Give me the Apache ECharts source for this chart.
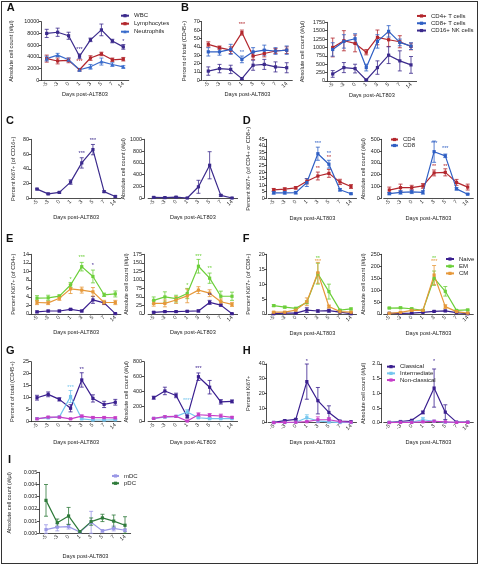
<!DOCTYPE html>
<html><head><meta charset="utf-8">
<script src="https://cdn.jsdelivr.net/npm/echarts@6/dist/echarts.min.js"></script>
<style>
html,body{margin:0;padding:0;background:#fff}
#c{position:absolute;left:0;top:0;width:480px;height:566px}
#frame{position:absolute;left:1px;top:1px;width:477px;height:563px;border:1px solid #333;box-sizing:border-box;pointer-events:none}
</style></head>
<body><div id="c"></div><div id="frame"></div>
<script>
// ---------- categories ----------
const days = ["-5","-3","0","1","3","5","7","14"];

// ---------- colours ----------
const PURPLE = "#3b2a8c", RED = "#b3272d", BLUE = "#3a6ccc", BLUE2 = "#2f5fc4";
const NAIVE = "#3a1f8f", EMC = "#6ccf3a", CMC = "#e6983a";
const CLASS = "#3a1f8f", INTER = "#74c6ee", NONC = "#c63ec8";
const MDC = "#9a97e6", PDC = "#2e7a3a";

// ---------- A ----------
const aWBC = [8000, 8200, 7600, 4100, 6900, 8600, 6700, 5700];
const aWBCErr = [700, 700, 600, 400, 300, 1000, 300, 400];
const aLym = [3700, 3300, 3400, 1800, 3800, 4500, 3500, 3600];
const aLymErr = [600, 500, 400, 200, 400, 300, 300, 300];
const aNeu = [3700, 4300, 3500, 1800, 2300, 3200, 2700, 2300];
const aNeuErr = [400, 300, 300, 200, 400, 600, 300, 200];

// ---------- B ----------
const bPctCD4 = [43, 39, 36, 57, 29, 32, 35, 36];
const bPctCD4Err = [3, 2, 4, 3, 4, 4, 3, 4];
const bPctCD8 = [34, 34, 37, 25, 34, 36, 35, 36];
const bPctCD8Err = [5, 4, 6, 4, 5, 6, 4, 5];
const bPctNK = [11, 14, 13, 2, 18, 19, 16, 15];
const bPctNKErr = [5, 5, 5, 1, 6, 6, 6, 6];
const bAbsCD4 = [1000, 1200, 1120, 860, 1300, 1230, 1170, 1030];
const bAbsCD4Err = [280, 300, 250, 80, 220, 200, 180, 100];
const bAbsCD8 = [940, 1180, 1260, 400, 1180, 1480, 1150, 1040];
const bAbsCD8Err = [200, 200, 150, 100, 200, 170, 100, 100];
const bAbsNK = [210, 400, 370, 30, 400, 770, 600, 480];
const bAbsNKErr = [100, 150, 130, 20, 200, 250, 300, 250];

// ---------- C ----------
const cPct = [12.5, 6, 8, 22, 48, 66, 9, 2.5];
const cPctErr = [1, 1, 1, 3, 7, 7, 1, 1];
const cAbs = [15, 12, 20, 5, 195, 560, 50, 5];
const cAbsErr = [10, 10, 10, 3, 110, 230, 15, 3];

// ---------- D ----------
const dPctCD4 = [6.5, 7, 8, 13, 17, 19, 12.5, 9];
const dPctCD4Err = [1, 1, 1, 2, 3, 3, 2, 1.5];
const dPctCD8 = [4.2, 4.2, 4.3, 12, 34, 26, 6.5, 3.5];
const dPctCD8Err = [1, 1, 1, 3, 5, 3, 1, 0.5];
const dAbsCD4 = [70, 90, 90, 105, 215, 220, 135, 95];
const dAbsCD4Err = [25, 30, 20, 20, 25, 30, 25, 25];
const dAbsCD8 = [40, 50, 55, 50, 395, 360, 80, 35];
const dAbsCD8Err = [10, 15, 15, 15, 90, 15, 10, 5];

// ---------- E (CD4 subsets) ----------
const ePctNaive = [0.5, 0.7, 0.7, 1.1, 0.7, 3.3, 2.6, 0.1];
const ePctNaiveErr = [0.2, 0.2, 0.2, 0.2, 0.2, 0.8, 0.3, 0.1];
const ePctEM = [3.7, 3.8, 4.2, 6.8, 11.1, 8.8, 4.5, 4.7];
const ePctEMErr = [0.6, 0.6, 0.3, 0.6, 1, 1.5, 0.4, 0.7];
const ePctCM = [2.7, 2.6, 3.7, 5.9, 5.6, 5.2, 2.7, 2.7];
const ePctCMErr = [0.5, 0.4, 0.5, 1.1, 0.7, 1, 0.5, 0.5];
const eAbsNaive = [5, 7, 7, 8, 9, 34, 26, 1];
const eAbsNaiveErr = [2, 2, 2, 2, 3, 6, 3, 1];
const eAbsEM = [40, 50, 45, 60, 140, 105, 52, 52];
const eAbsEMErr = [10, 15, 10, 15, 20, 15, 15, 12];
const eAbsCM = [31, 31, 41, 53, 70, 61, 36, 28];
const eAbsCMErr = [8, 10, 10, 20, 10, 10, 8, 6];

// ---------- F (CD8 subsets) ----------
const fPctNaive = [0.1, 0.3, 0.3, 1.3, 1, 1.1, 0.6, 0.1];
const fPctNaiveErr = [0.1, 0.1, 0.1, 0.8, 0.4, 0.5, 0.2, 0.1];
const fPctEM = [2.8, 2.3, 1.9, 3.9, 13.5, 7.5, 1.3, 1.7];
const fPctEMErr = [0.3, 0.3, 0.3, 0.5, 3.5, 2.5, 0.2, 0.3];
const fPctCM = [0.6, 0.6, 1.3, 4.1, 13.8, 2.5, 0.8, 0.6];
const fPctCMErr = [0.2, 0.2, 0.3, 1.3, 3.5, 0.5, 0.2, 0.2];
const fAbsNaive = [3, 3, 4, 7, 11, 13, 6, 1];
const fAbsNaiveErr = [1, 1, 1, 2, 3, 3, 2, 1];
const fAbsEM = [25, 26, 22, 15, 150, 95, 15, 17];
const fAbsEMErr = [3, 3, 3, 3, 30, 20, 3, 3];
const fAbsCM = [3, 7, 15, 15, 163, 31, 10, 4];
const fAbsCMErr = [1, 2, 3, 3, 40, 8, 2, 1];

// ---------- G (monocytes) ----------
const gPctClass = [10, 11.4, 9.3, 5.6, 17.4, 9.7, 7.2, 8.1];
const gPctClassErr = [1, 1, 0.7, 1.5, 3, 1.5, 1.3, 1.2];
const gPctInter = [1.3, 1.6, 2, 10.5, 1.2, 0.7, 0.7, 0.8];
const gPctInterErr = [0.3, 0.3, 0.3, 2.5, 0.3, 0.2, 0.2, 0.2];
const gPctNonc = [1.2, 1.9, 1.9, 1.2, 2.3, 1.7, 1.7, 1.6];
const gPctNoncErr = [0.3, 0.3, 0.3, 0.2, 0.5, 0.5, 0.5, 0.4];
const gAbsClass = [320, 410, 350, 65, 600, 460, 265, 270];
const gAbsClassErr = [20, 50, 30, 15, 50, 90, 30, 20];
const gAbsInter = [44, 62, 71, 130, 53, 40, 40, 40];
const gAbsInterErr = [5, 10, 10, 30, 10, 5, 5, 5];
const gAbsNonc = [44, 67, 71, 9, 93, 84, 76, 58];
const gAbsNoncErr = [5, 10, 10, 3, 25, 25, 25, 10];

// ---------- H (monocyte Ki67) ----------
const hPctClass = [0.2, 1.4, 2.3, 28, 15, 7, 1.1, 0.7];
const hPctClassErr = [0.3, 0.5, 0.5, 12, 9, 4.5, 0.3, 0.2];
const hPctInter = [0.1, 0.1, 0.3, 3.4, 1.2, 0.5, 0.1, 0.1];
const hPctInterErr = [0.1, 0.1, 0.2, 2, 1, 0.5, 0.1, 0.1];
const hPctNonc = [0.05, 0.2, 0.3, 0.7, 2, 2, 0.7, 0.3];
const hPctNoncErr = [0.1, 0.1, 0.1, 0.3, 2, 1.5, 0.3, 0.1];
const hAbsClass = [0.01, 0.04, 0.08, 0.35, 1.18, 0.36, 0.02, 0.02];
const hAbsClassErr = [0.01, 0.02, 0.02, 0.05, 0.65, 0.25, 0.01, 0.01];
const hAbsInter = [0.01, 0.01, 0.02, 0.1, 0.05, 0.02, 0.01, 0.01];
const hAbsInterErr = [0.005, 0.005, 0.01, 0.08, 0.02, 0.01, 0.005, 0.005];
const hAbsNonc = [0.005, 0.01, 0.01, 0.03, 0.05, 0.03, 0.01, 0.01];
const hAbsNoncErr = [0.003, 0.005, 0.005, 0.02, 0.03, 0.01, 0.005, 0.005];

// ---------- I (DCs) ----------
const iMDC = [0.0003, 0.0005, 0.00055, 0.0001, 0.0009, 0.0002, 0.0004, 0.00025];
const iMDCErr = [0.0004, 0.0003, 0.0002, 0.00005, 0.0009, 0.0001, 0.0002, 0.0001];
const iPDC = [0.0027, 0.00087, 0.00142, 0.00014, 0.00096, 0.00126, 0.001, 0.00066];
const iPDCErr = [0.0013, 0.0003, 0.0007, 0.00005, 0.0003, 0.0003, 0.0005, 0.0007];

// ---------- builder ----------
const NARROW = "'Liberation Sans',Arial,sans-serif";
const SANS = "'Liberation Sans',Arial,sans-serif";
const INK = "#222";
const NAME_FS = 5.6, TICK_FS = 5.4;
const opt = {animation:false, backgroundColor:'#fff', grid:[], xAxis:[], yAxis:[], series:[], legend:[], graphic:[]};

function addChart(c){
  const gi = opt.grid.length;
  const first = c.first + 1, last = c.last + 1;
  const sp = (last - first) / 7;
  const start = first - sp / 2;
  const W = sp * 8;
  const off = Math.max(0, start - c.yAx);
  opt.grid.push({left:start, top:c.top, width:W, height:c.zero - c.top});
  opt.xAxis.push({type:'category', gridIndex:gi, data:days, boundaryGap:true,
    name:'Days post-ALT803', nameLocation:'middle', nameGap:c.xNameY - c.zero - 3,
    nameTextStyle:{fontFamily:NARROW, fontSize:NAME_FS, color:INK},
    axisLine:{lineStyle:{color:INK, width:0.8}},
    axisTick:{alignWithLabel:true, length:2.5, lineStyle:{color:INK, width:0.8}},
    axisLabel:{rotate:45, interval:0, fontSize:TICK_FS, fontFamily:NARROW, color:INK, margin:2.5},
    splitLine:{show:false}});
  opt.yAxis.push({type:'value', gridIndex:gi, min:0, max:c.max, interval:c.interval, offset:off,
    name:c.yName, nameLocation:'middle', nameRotate:90, nameGap:c.yAx - c.nameX - 2.8,
    nameTextStyle:{fontFamily:NARROW, fontSize:NAME_FS, color:INK},
    axisLine:{show:true, lineStyle:{color:INK, width:0.8}},
    axisTick:{show:true, length:2.5, lineStyle:{color:INK, width:0.8}},
    axisLabel:{fontSize:TICK_FS, fontFamily:NARROW, color:INK, margin:2, formatter:c.fmt},
    splitLine:{show:false}});
  c.series.forEach(s => {
    const col = s.color;
    opt.series.push({type:'custom', xAxisIndex:gi, yAxisIndex:gi, z:1, silent:true,
      data: s.data.map((v, i) => [i, v, s.err[i]]),
      renderItem: (p, api) => {
        const x = api.value(0), v = api.value(1), e = api.value(2);
        const hi = api.coord([x, v + e]), lo = api.coord([x, Math.max(0, v - e)]);
        const w = 2;
        const st = {stroke:col, lineWidth:0.8};
        return {type:'group', children:[
          {type:'line', shape:{x1:hi[0], y1:hi[1], x2:lo[0], y2:lo[1]}, style:st},
          {type:'line', shape:{x1:hi[0]-w, y1:hi[1], x2:hi[0]+w, y2:hi[1]}, style:st},
          {type:'line', shape:{x1:lo[0]-w, y1:lo[1], x2:lo[0]+w, y2:lo[1]}, style:st}
        ]};
      }});
    opt.series.push({type:'line', name:s.name, xAxisIndex:gi, yAxisIndex:gi, z:2,
      data:s.data, symbol:s.symbol || 'rect', symbolSize:s.size || 3.2, showSymbol:true,
      lineStyle:{color:col, width:1.2}, itemStyle:{color:col}, emphasis:{disabled:true}});
  });
  if (c.stars) {
    const st = c.stars;
    opt.series.push({type:'custom', xAxisIndex:gi, yAxisIndex:gi, z:3, silent:true,
      data: st.map(s => [s[0], s[1]]),
      renderItem: (p, api) => {
        const pt = api.coord([api.value(0), api.value(1)]);
        const s = st[p.dataIndex];
        return {type:'text', x:pt[0], y:pt[1], style:{text:s[2], fill:s[3], fontSize:5.5,
          fontFamily:SANS, align:'center', verticalAlign:'middle'}};
      }});
  }
  if (c.legend) {
    const L = c.legend;
    opt.legend.push({left:L.left, top:L.top, orient:'vertical', padding:0, itemGap:0,
      itemWidth:L.iw || 8, itemHeight:4, selectedMode:false,
      data:c.series.map(s => s.name),
      textStyle:{fontSize:L.fs || 6, fontFamily:SANS, color:INK, lineHeight:L.lh}});
  }
}

const fmt0 = v => String(v);

// A
addChart({yAx:41.7, first:45.7, last:122.3, top:21.7, zero:80.3, max:10000, interval:2000,
  yName:'Absolute cell count (#/μl)', nameX:11.7, xNameY:94, fmt:fmt0,
  series:[
    {name:'WBC', data:aWBC, err:aWBCErr, color:PURPLE},
    {name:'Lymphocytes', data:aLym, err:aLymErr, color:RED},
    {name:'Neutrophils', data:aNeu, err:aNeuErr, color:BLUE, symbol:'triangle', size:4}],
  stars:[[3, 5300, '***', PURPLE], [3, 3150, '***', RED], [7, 6600, '*', PURPLE]],
  legend:{left:120, top:11.7, lh:8}});
// B left
addChart({yAx:201.7, first:207.3, last:285.7, top:21.7, zero:80.3, max:70, interval:10,
  yName:'Percent of total (CD45+)', nameX:185, xNameY:94, fmt:fmt0,
  series:[
    {name:'CD4+ T cells', data:bPctCD4, err:bPctCD4Err, color:RED},
    {name:'CD8+ T cells', data:bPctCD8, err:bPctCD8Err, color:BLUE2},
    {name:'CD16+ NK cells', data:bPctNK, err:bPctNKErr, color:PURPLE}],
  stars:[[3, 67, '***', RED], [3, 33, '**', BLUE2]]});
// B right
addChart({yAx:327.3, first:331.7, last:410, top:22.3, zero:81, max:1750, interval:250,
  yName:'Absolute cell count (#/μl)', nameX:303.3, xNameY:94, fmt:fmt0,
  series:[
    {name:'CD4+ T cells', data:bAbsCD4, err:bAbsCD4Err, color:RED},
    {name:'CD8+ T cells', data:bAbsCD8, err:bAbsCD8Err, color:BLUE2},
    {name:'CD16+ NK cells', data:bAbsNK, err:bAbsNKErr, color:PURPLE}],
  legend:{left:416, top:12.3, lh:7.3, iw:9}});
// C left
addChart({yAx:31, first:36, last:114.3, top:139.3, zero:198.3, max:80, interval:20,
  yName:'Percent Ki67+ (of CD16+)', nameX:13.3, xNameY:217.7, fmt:fmt0,
  series:[{name:'CD16+ NK', data:cPct, err:cPctErr, color:PURPLE}],
  stars:[[4, 61, '***', PURPLE], [5, 78, '***', PURPLE]]});
// C right
addChart({yAx:144, first:152.7, last:231, top:139.3, zero:198.3, max:1000, interval:200,
  yName:'Absolute cell count (#/μl)', nameX:126.7, xNameY:217.7, fmt:fmt0,
  series:[{name:'CD16+ NK', data:cAbs, err:cAbsErr, color:PURPLE}]});
// D left
addChart({yAx:266.7, first:272.7, last:350, top:139.3, zero:198.3, max:45, interval:5,
  yName:'Percent Ki67+ (of CD4+ or CD8+)', nameX:248.3, xNameY:218.3, fmt:fmt0,
  series:[
    {name:'CD4', data:dPctCD4, err:dPctCD4Err, color:RED},
    {name:'CD8', data:dPctCD8, err:dPctCD8Err, color:BLUE2}],
  stars:[[4, 42, '***', BLUE2], [5, 34.5, '**', BLUE2], [5, 31.5, '**', RED], [4, 23, '**', RED]]});
// D right
addChart({yAx:381.7, first:388.3, last:466.7, top:139.3, zero:198.3, max:500, interval:100,
  yName:'Absolute cell count (#/μl)', nameX:364, xNameY:218.3, fmt:fmt0,
  series:[
    {name:'CD4', data:dAbsCD4, err:dAbsCD4Err, color:RED},
    {name:'CD8', data:dAbsCD8, err:dAbsCD8Err, color:BLUE2}],
  stars:[[4, 466, '***', BLUE2], [5, 418, '***', BLUE2], [4, 268, '**', RED], [5, 268, '**', RED]],
  legend:{left:390, top:136.5, lh:6, iw:7}});
// E left
addChart({yAx:31, first:36, last:114.3, top:254.3, zero:314, max:14, interval:2,
  yName:'Percent Ki67+ (of CD4+)', nameX:13.3, xNameY:332.7, fmt:fmt0,
  series:[
    {name:'Naive', data:ePctNaive, err:ePctNaiveErr, color:NAIVE},
    {name:'EM', data:ePctEM, err:ePctEMErr, color:EMC},
    {name:'CM', data:ePctCM, err:ePctCMErr, color:CMC}],
  stars:[[3, 8, '*', EMC], [4, 13.3, '***', EMC], [5, 11.3, '*', NAIVE]]});
// E right
addChart({yAx:144, first:152.7, last:231, top:254.3, zero:314, max:175, interval:25,
  yName:'Absolute cell count (#/μl)', nameX:126.7, xNameY:332.7, fmt:fmt0,
  series:[
    {name:'Naive', data:eAbsNaive, err:eAbsNaiveErr, color:NAIVE},
    {name:'EM', data:eAbsEM, err:eAbsEMErr, color:EMC},
    {name:'CM', data:eAbsCM, err:eAbsCMErr, color:CMC}],
  stars:[[3, 85, '*', EMC], [4, 168, '***', EMC], [5, 134, '**', EMC], [5, 53, '**', NAIVE]]});
// F left
addChart({yAx:266.7, first:272.7, last:350, top:254.3, zero:314, max:20, interval:5,
  yName:'Percent Ki67+ (of CD8+)', nameX:248.3, xNameY:333.3, fmt:fmt0,
  series:[
    {name:'Naive', data:fPctNaive, err:fPctNaiveErr, color:NAIVE},
    {name:'EM', data:fPctEM, err:fPctEMErr, color:EMC},
    {name:'CM', data:fPctCM, err:fPctCMErr, color:CMC}],
  stars:[[4, 18.7, '**', EMC], [4, 17.5, '***', CMC]]});
// F right
addChart({yAx:381.7, first:388.3, last:466.7, top:254.3, zero:314, max:250, interval:50,
  yName:'Absolute cell count (#/μl)', nameX:364, xNameY:333.3, fmt:fmt0,
  series:[
    {name:'Naive', data:fAbsNaive, err:fAbsNaiveErr, color:NAIVE},
    {name:'EM', data:fAbsEM, err:fAbsEMErr, color:EMC},
    {name:'CM', data:fAbsCM, err:fAbsCMErr, color:CMC}],
  stars:[[4, 233, '**', EMC], [4, 219, '***', CMC]],
  legend:{left:445, top:255.4, lh:7.2}});
// G left
addChart({yAx:31, first:36, last:114.3, top:361.7, zero:421.7, max:25, interval:5,
  yName:'Percent of total (CD45+)', nameX:12.7, xNameY:442.7, fmt:fmt0,
  series:[
    {name:'Classical', data:gPctClass, err:gPctClassErr, color:CLASS},
    {name:'Intermediate', data:gPctInter, err:gPctInterErr, color:INTER},
    {name:'Non-classical', data:gPctNonc, err:gPctNoncErr, color:NONC}],
  stars:[[3, 14.2, '***', INTER], [4, 21.8, '**', CLASS]]});
// G right
addChart({yAx:144, first:152.7, last:231, top:361.7, zero:421.7, max:800, interval:200,
  yName:'Absolute cell count (#/μl)', nameX:126.7, xNameY:442.7, fmt:fmt0,
  series:[
    {name:'Classical', data:gAbsClass, err:gAbsClassErr, color:CLASS},
    {name:'Intermediate', data:gAbsInter, err:gAbsInterErr, color:INTER},
    {name:'Non-classical', data:gAbsNonc, err:gAbsNoncErr, color:NONC}],
  stars:[[3, 280, '****', INTER], [4, 711, '***', CLASS]]});
// H left
addChart({yAx:266.7, first:272.7, last:350, top:364, zero:422.7, max:40, interval:10,
  yName:'Percent Ki67+', nameX:248.3, xNameY:442.7, fmt:fmt0,
  series:[
    {name:'Classical', data:hPctClass, err:hPctClassErr, color:CLASS},
    {name:'Intermediate', data:hPctInter, err:hPctInterErr, color:INTER},
    {name:'Non-classical', data:hPctNonc, err:hPctNoncErr, color:NONC}],
  stars:[[3, 41.6, '*', CLASS]]});
// H right
addChart({yAx:381.7, first:388.3, last:466.7, top:364, zero:422.7, max:2, interval:0.5,
  yName:'Absolute cell count (#/μl)', nameX:364, xNameY:442.7, fmt:v => v.toFixed(1),
  series:[
    {name:'Classical', data:hAbsClass, err:hAbsClassErr, color:CLASS},
    {name:'Intermediate', data:hAbsInter, err:hAbsInterErr, color:INTER},
    {name:'Non-classical', data:hAbsNonc, err:hAbsNoncErr, color:NONC}],
  stars:[[4, 2.08, '*', CLASS]],
  legend:{left:386, top:363.3, lh:6.7}});
// I
addChart({yAx:39.3, first:45, last:124, top:472.3, zero:533.3, max:0.005, interval:0.001,
  yName:'Absolute cell count (#/μl)', nameX:10, xNameY:556, fmt:v => v.toFixed(3),
  series:[
    {name:'mDC', data:iMDC, err:iMDCErr, color:MDC},
    {name:'pDC', data:iPDC, err:iPDCErr, color:PDC}],
  legend:{left:111, top:472.3, lh:7.3, iw:7}});

// panel letters
const letters = [['A',6.7,8.8],['B',181,8.8],['C',6,121.7],['D',242.7,121],['E',6,239.2],
  ['F',242.7,239.2],['G',6,351.7],['H',242.7,351.3],['I',8,460.8]];
letters.forEach(l => opt.graphic.push({type:'text', left:l[1], top:l[2]-6,
  style:{text:l[0], fontSize:11, fontWeight:'bold', fontFamily:SANS, fill:'#111'}}));

const chart = echarts.init(document.getElementById('c'), null, {renderer:'canvas'});
chart.setOption(opt);
</script>
</body></html>
